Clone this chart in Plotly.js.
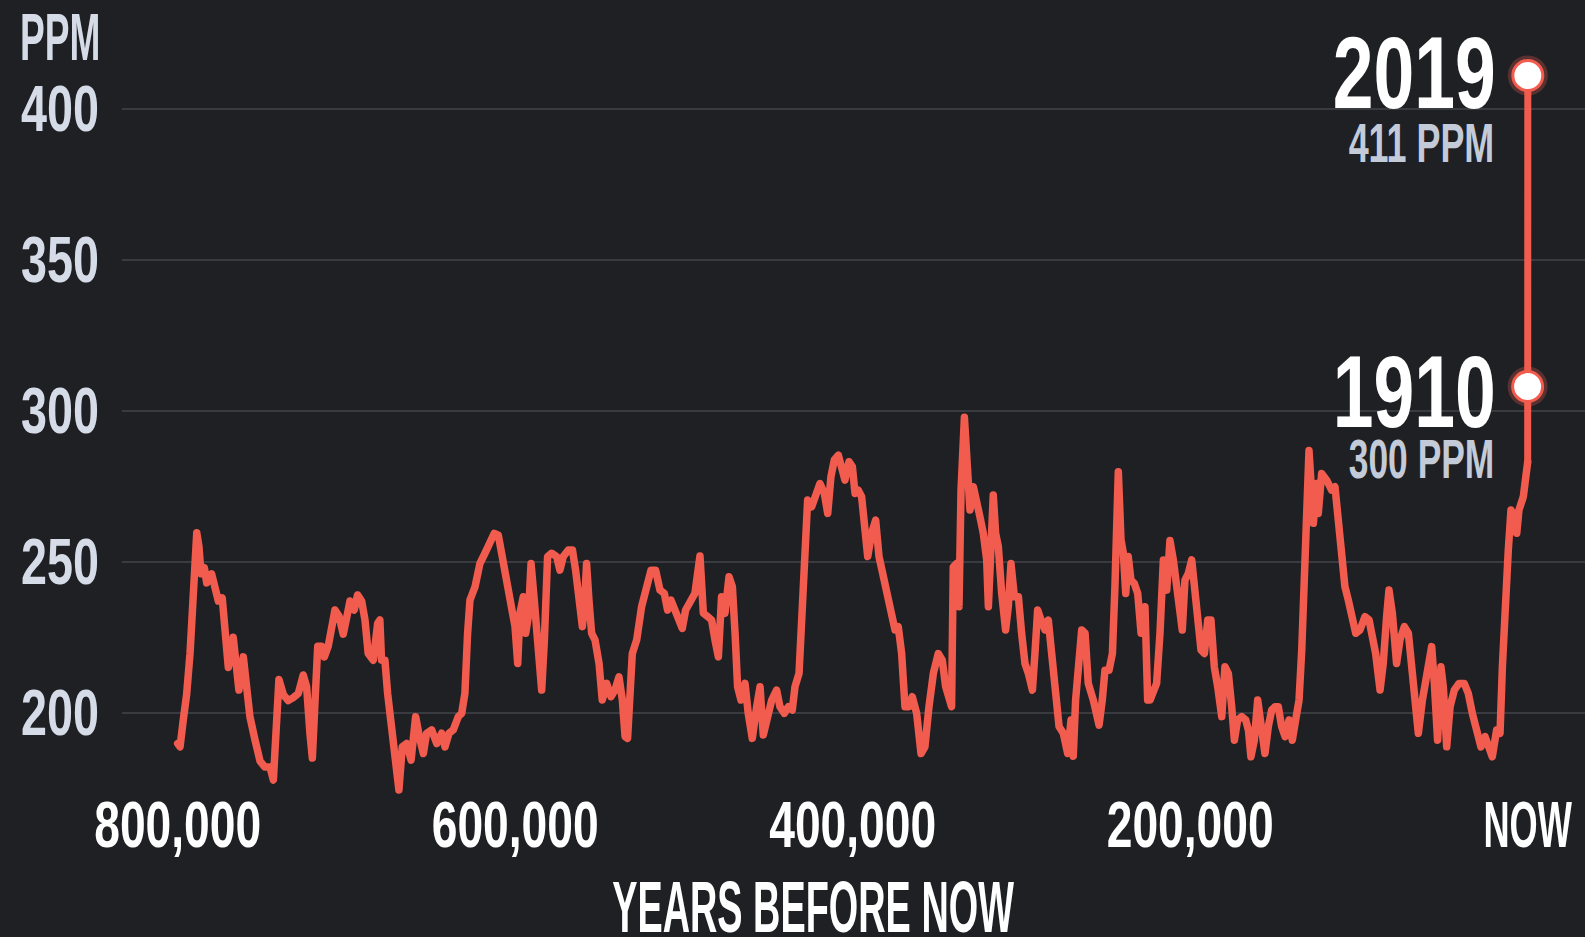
<!DOCTYPE html>
<html>
<head>
<meta charset="utf-8">
<script src="https://cdn.plot.ly/plotly-3.0.1.min.js"></script>
<style>
  html, body { margin: 0; padding: 0; background: #1f2024; }
  #chart { width: 1585px; height: 937px; }
  .js-line { stroke-linejoin: round !important; stroke-linecap: round !important; }
</style>
</head>
<body>
<div id="chart"></div>
<script>
// ---- DATA ----
// Ice-core record: thousands of years before now, CO2 in ppm
const iceKyrBeforeNow = [
  800.0,798.6,796.7,794.7,792.7,790.8,788.7,787.4,786.2,784.2,782.8,779.9,777.9,775.9,773.6,772.0,770.0,767.1,765.0,763.7,
  761.1,759.1,757.2,754.2,751.2,748.3,745.3,743.3,741.9,740.0,737.4,734.5,731.5,728.5,725.6,723.6,721.6,720.2,718.6,717.0,
  714.7,713.1,710.8,708.7,706.8,704.4,701.9,699.3,697.9,695.4,693.4,691.0,689.0,687.1,684.1,681.5,680.2,679.2,677.2,675.6,
  673.2,671.2,
  668.9,666.9,664.3,661.7,659.0,656.4,654.4,652.5,649.5,646.5,643.6,641.6,639.2,636.7,633.7,631.7,629.8,628.2,626.8,623.8,
  620.9,617.9,614.9,612.4,610.0,607.6,605.1,602.1,600.1,598.5,597.2,595.2,593.8,592.2,590.6,588.7,586.7,584.3,582.7,580.8,
  578.4,575.4,573.5,571.5,568.5,566.1,564.2,562.6,560.2,559.0,557.7,556.3,554.7,552.7,550.3,548.4,545.8,543.2,540.9,538.5,
  536.5,534.9,
  533.4,530.6,528.0,525.1,522.1,519.5,516.8,514.2,511.6,509.7,507.7,505.3,502.9,501.0,499.0,496.4,493.5,490.5,488.5,485.9,
  483.6,481.6,479.6,477.7,475.7,473.3,471.3,469.7,468.2,466.2,463.8,461.9,459.5,456.9,454.9,453.0,450.4,448.0,445.1,443.1,
  440.5,438.1,435.8,434.2,431.8,430.2,428.3,426.7,424.3,421.9,419.4,416.8,414.8,412.9,410.9,408.5,406.5,404.6,402.2,400.2,
  398.6,
  396.7,394.7,393.1,391.1,388.8,386.4,384.4,381.8,378.9,376.9,374.9,373.0,371.0,369.0,366.6,364.7,362.1,359.5,357.2,354.8,
  352.2,349.3,346.9,344.9,342.9,341.4,340.4,338.4,337.0,335.8,333.8,331.9,330.5,328.5,326.5,324.6,322.6,320.6,319.6,318.0,
  316.7,315.3,313.7,311.7,309.4,307.8,306.2,304.2,301.8,299.9,297.9,295.9,293.5,292.0,290.4,288.4,286.0,284.1,281.7,279.7,
  277.7,275.2,272.6,270.6,269.3,267.9,265.9,264.3,262.3,
  260.4,257.4,254.0,252.1,250.5,248.1,246.1,244.6,243.4,242.6,241.0,239.6,238.2,236.7,235.1,233.1,231.1,229.1,226.8,225.2,
  223.8,221.8,219.9,217.9,215.9,213.9,212.0,210.0,208.0,206.0,204.7,203.1,201.1,199.1,197.2,195.2,193.6,191.6,189.6,187.7,
  185.7,183.7,181.3,179.4,177.4,175.4,173.8,171.9,169.5,167.1,165.5,164.0,162.0,160.0,158.0,155.7,153.7,151.7,149.7,147.8,
  145.8,143.8,141.4,139.5,137.5,135.5,133.9,132.4,131.0,129.6,128.0,127.0,126.0,
  125.1,124.1,122.1,119.1,116.2,114.2,112.2,110.2,108.3,106.3,104.3,101.9,99.4,96.4,94.0,92.1,90.1,87.5,85.6,83.6,
  82.2,80.2,77.7,75.7,73.1,70.7,68.8,66.8,64.8,62.4,58.9,56.9,55.3,53.4,51.4,50.0,48.0,46.0,43.5,40.7,
  37.6,35.2,32.8,30.2,27.7,25.3,22.9,21.0,18.4,16.4,15.0,13.5,11.5,9.9,7.9,6.5,5.2,2.6,0.6,0.0
];
const iceCo2Ppm = [
  189.8,188.7,197.6,206.0,219.6,237.0,259.6,255.0,246.0,248.0,243.0,246.0,241.7,237.0,238.0,228.5,215.0,225.0,215.0,207.5,
  218.5,208.6,198.7,191.0,184.0,182.0,182.0,177.7,193.0,211.0,206.0,204.0,205.0,206.4,212.5,208.6,193.0,185.0,204.0,222.0,
  222.0,218.5,222.0,228.5,234.0,232.0,226.0,233.0,237.0,234.0,239.0,237.0,230.7,219.6,217.4,229.6,230.7,217.4,217.4,206.4,
  193.0,182.0,
  174.4,188.7,189.8,184.3,198.7,191.0,186.5,193.2,194.3,189.8,193.2,188.7,193.2,194.3,198.7,199.8,206.4,226.3,237.3,241.7,
  249.4,252.8,257.2,259.4,258.8,251.7,243.9,236.2,228.5,216.3,232.9,238.4,226.3,231.8,249.4,237.3,220.8,207.5,224.1,251.7,
  252.8,251.7,247.2,251.7,253.9,253.9,247.2,237.3,228.5,235.1,249.4,237.3,226.3,224.1,216.3,204.2,209.7,205.3,207.5,211.9,
  204.2,192.1,
  191.5,219.6,224.1,235.1,241.7,247.2,247.2,240.6,239.5,234.0,237.3,234.0,230.7,227.9,234.0,237.3,239.5,251.9,233.0,231.8,
  230.7,224.1,218.5,238.4,232.9,245.0,241.7,226.3,208.6,204.2,209.7,199.8,191.5,202.0,208.6,192.6,198.7,204.2,207.5,202.0,
  199.8,202.0,200.9,208.6,213.0,231.8,253.9,270.4,268.2,272.6,275.9,272.6,266.0,278.1,283.7,285.3,279.8,277.0,283.1,281.5,
  272.6,
  273.7,271.5,261.6,251.7,259.4,263.8,251.7,245.0,238.4,230.7,227.4,228.5,219.6,202.0,202.0,205.3,199.8,186.5,188.7,202.0,
  213.0,219.6,217.4,208.6,204.2,202.0,248.3,249.4,235.1,273.7,297.8,281.5,267.1,274.8,268.2,264.9,259.4,250.6,235.1,253.9,
  272.1,259.4,255.0,239.5,227.4,235.1,249.4,238.4,238.4,226.3,216.3,213.0,207.5,219.6,234.0,230.7,227.4,230.7,217.4,206.4,
  195.4,193.2,186.5,197.6,185.6,204.2,215.2,227.4,226.3,
  209.7,204.2,195.9,204.2,214.1,214.1,219.6,241.7,267.1,279.8,257.2,252.8,239.5,251.7,243.9,242.8,239.5,226.3,235.1,204.2,
  204.2,207.5,209.7,226.3,250.6,240.6,257.0,250.6,241.7,232.9,227.4,243.9,246.1,250.6,241.7,228.5,220.8,219.6,230.7,230.7,
  215.2,208.6,198.7,215.2,213.0,202.0,190.9,197.6,198.7,197.6,194.3,185.4,190.9,204.2,195.4,186.5,195.4,200.9,202.0,202.0,
  195.4,192.1,197.6,190.9,197.6,204.2,220.8,248.3,270.4,286.8,272.6,262.7,270.4,
  275.9,266.0,279.2,277.0,273.7,274.8,261.6,253.9,241.7,237.3,232.9,226.3,227.4,231.8,230.7,226.3,219.6,207.5,216.3,231.8,
  240.6,232.9,216.3,224.1,228.5,226.3,215.2,206.4,193.2,204.2,215.2,221.9,209.7,190.9,215.2,208.6,188.7,202.0,207.5,209.7,
  209.7,206.4,199.8,193.2,188.7,192.1,188.7,185.4,194.3,193.2,215.2,237.3,253.9,267.1,264.9,259.4,267.1,271.5,278.1,283.0
];

// Modern points (calendar year, years before now expressed in kyr, ppm)
const modernYears = ['1910', '2019'];
const modernKyrBeforeNow = [0.04, -0.069];
const modernCo2Ppm = [308, 411];
const modernLabels = ['300 PPM', '411 PPM'];

// Axis ticks
const xTickVals = [800, 600, 400, 200, 0];
const xTickText = ['800,000', '600,000', '400,000', '200,000', 'NOW'];
const yTickVals = [200, 250, 300, 350, 400];
const yTickText = ['200', '250', '300', '350', '400'];

// ---- STYLE ----
const FONT = '"Liberation Sans", Arial, sans-serif';
const RED = '#f25c4e';
const BG = '#1f2024';
// label offsets from the point (px): year label shift, ppm label shift
const yearShiftY = [-5, 2];
const ppmShiftY = [-72, -67];

const lastIdx = iceKyrBeforeNow.length - 1;

const traces = [
  {
    type: 'scatter', mode: 'lines',
    x: iceKyrBeforeNow, y: iceCo2Ppm,
    line: { color: RED, width: 7.5 },
    hoverinfo: 'skip'
  },
  {
    type: 'scatter', mode: 'lines',
    x: [iceKyrBeforeNow[lastIdx]].concat(modernKyrBeforeNow),
    y: [iceCo2Ppm[lastIdx]].concat(modernCo2Ppm),
    line: { color: RED, width: 7 },
    hoverinfo: 'skip'
  },
  {
    type: 'scatter', mode: 'markers',
    x: modernKyrBeforeNow, y: modernCo2Ppm,
    marker: { size: 40, color: 'rgba(242,92,78,0.28)' },
    cliponaxis: false, hoverinfo: 'skip'
  },
  {
    type: 'scatter', mode: 'markers',
    x: modernKyrBeforeNow, y: modernCo2Ppm,
    marker: { size: 30, color: '#ffffff', line: { color: RED, width: 3 } },
    cliponaxis: false, hoverinfo: 'skip'
  }
];

const annotations = [];
annotations.push({
  text: 'PPM', xref: 'paper', yref: 'paper',
  x: (18 - 122) / 1463, y: (800 - 37) / 760,
  xanchor: 'left', yanchor: 'middle', align: 'left', showarrow: false,
  font: { family: FONT, size: 67, color: '#d6dce7', weight: 700 }
});
annotations.push({
  text: 'YEARS BEFORE NOW', xref: 'paper', yref: 'paper',
  x: (813 - 122) / 1463, y: (800 - 907) / 760,
  xanchor: 'center', yanchor: 'middle', align: 'center', showarrow: false,
  font: { family: FONT, size: 72, color: '#ffffff', weight: 700 }
});
modernYears.forEach(function (yr, i) {
  annotations.push({
    text: yr, xref: 'x', yref: 'y',
    x: modernKyrBeforeNow[i], y: modernCo2Ppm[i],
    xanchor: 'right', yanchor: 'middle', align: 'right',
    xshift: -30, yshift: yearShiftY[i], showarrow: false,
    font: { family: FONT, size: 102, color: '#ffffff', weight: 700 }
  });
  annotations.push({
    text: modernLabels[i], xref: 'x', yref: 'y',
    x: modernKyrBeforeNow[i], y: modernCo2Ppm[i],
    xanchor: 'right', yanchor: 'middle', align: 'right',
    xshift: -32, yshift: ppmShiftY[i], showarrow: false,
    font: { family: FONT, size: 56, color: '#c3cad8', weight: 700 }
  });
});

const layout = {
  width: 1585, height: 937,
  paper_bgcolor: BG, plot_bgcolor: BG,
  margin: { l: 122, r: 0, t: 40, b: 137 },
  showlegend: false,
  hovermode: false,
  xaxis: {
    range: [833.0, -33.96],
    tickmode: 'array', tickvals: xTickVals, ticktext: xTickText,
    showgrid: false, zeroline: false, showline: false, ticks: '',
    ticklabelstandoff: -19, ticklabeloverflow: 'allow',
    tickfont: { family: FONT, size: 65, color: '#ffffff', weight: 700 }
  },
  yaxis: {
    range: [171.1, 422.75],
    tickmode: 'array', tickvals: yTickVals, ticktext: yTickText,
    showgrid: true, gridcolor: '#3a3b40', gridwidth: 2,
    zeroline: false, showline: false, ticks: '',
    ticklabelstandoff: 22, ticklabeloverflow: 'allow',
    tickfont: { family: FONT, size: 65, color: '#d6dce7', weight: 700 }
  },
  annotations: annotations
};

// The reference uses a tall condensed display face; emulate its glyph widths
// (in em) by condensing the real text horizontally.
const CONDENSED_EM = { ',': 0.17, ' ': 0.2, 'M': 0.46, 'W': 0.52, 'N': 0.42, 'O': 0.42, 'P': 0.37 };
function condensedEm(ch) {
  if (CONDENSED_EM[ch] !== undefined) return CONDENSED_EM[ch];
  if (/[0-9]/.test(ch)) return 0.40;
  return 0.34;
}
function condenseTexts(gd) {
  gd.querySelectorAll('svg text').forEach(function (el) {
    const s = el.textContent;
    if (!s) return;
    const fs = parseFloat(el.style.fontSize || window.getComputedStyle(el).fontSize);
    if (!fs) return;
    let em = 0;
    for (const c of s) em += condensedEm(c);
    const target = em * fs;
    const cur = el.getComputedTextLength();
    if (target < cur) {
      el.setAttribute('textLength', target.toFixed(1));
      el.setAttribute('lengthAdjust', 'spacingAndGlyphs');
    }
  });
}

Plotly.newPlot('chart', traces, layout, { staticPlot: true, displayModeBar: false })
  .then(condenseTexts);
</script>
</body>
</html>
